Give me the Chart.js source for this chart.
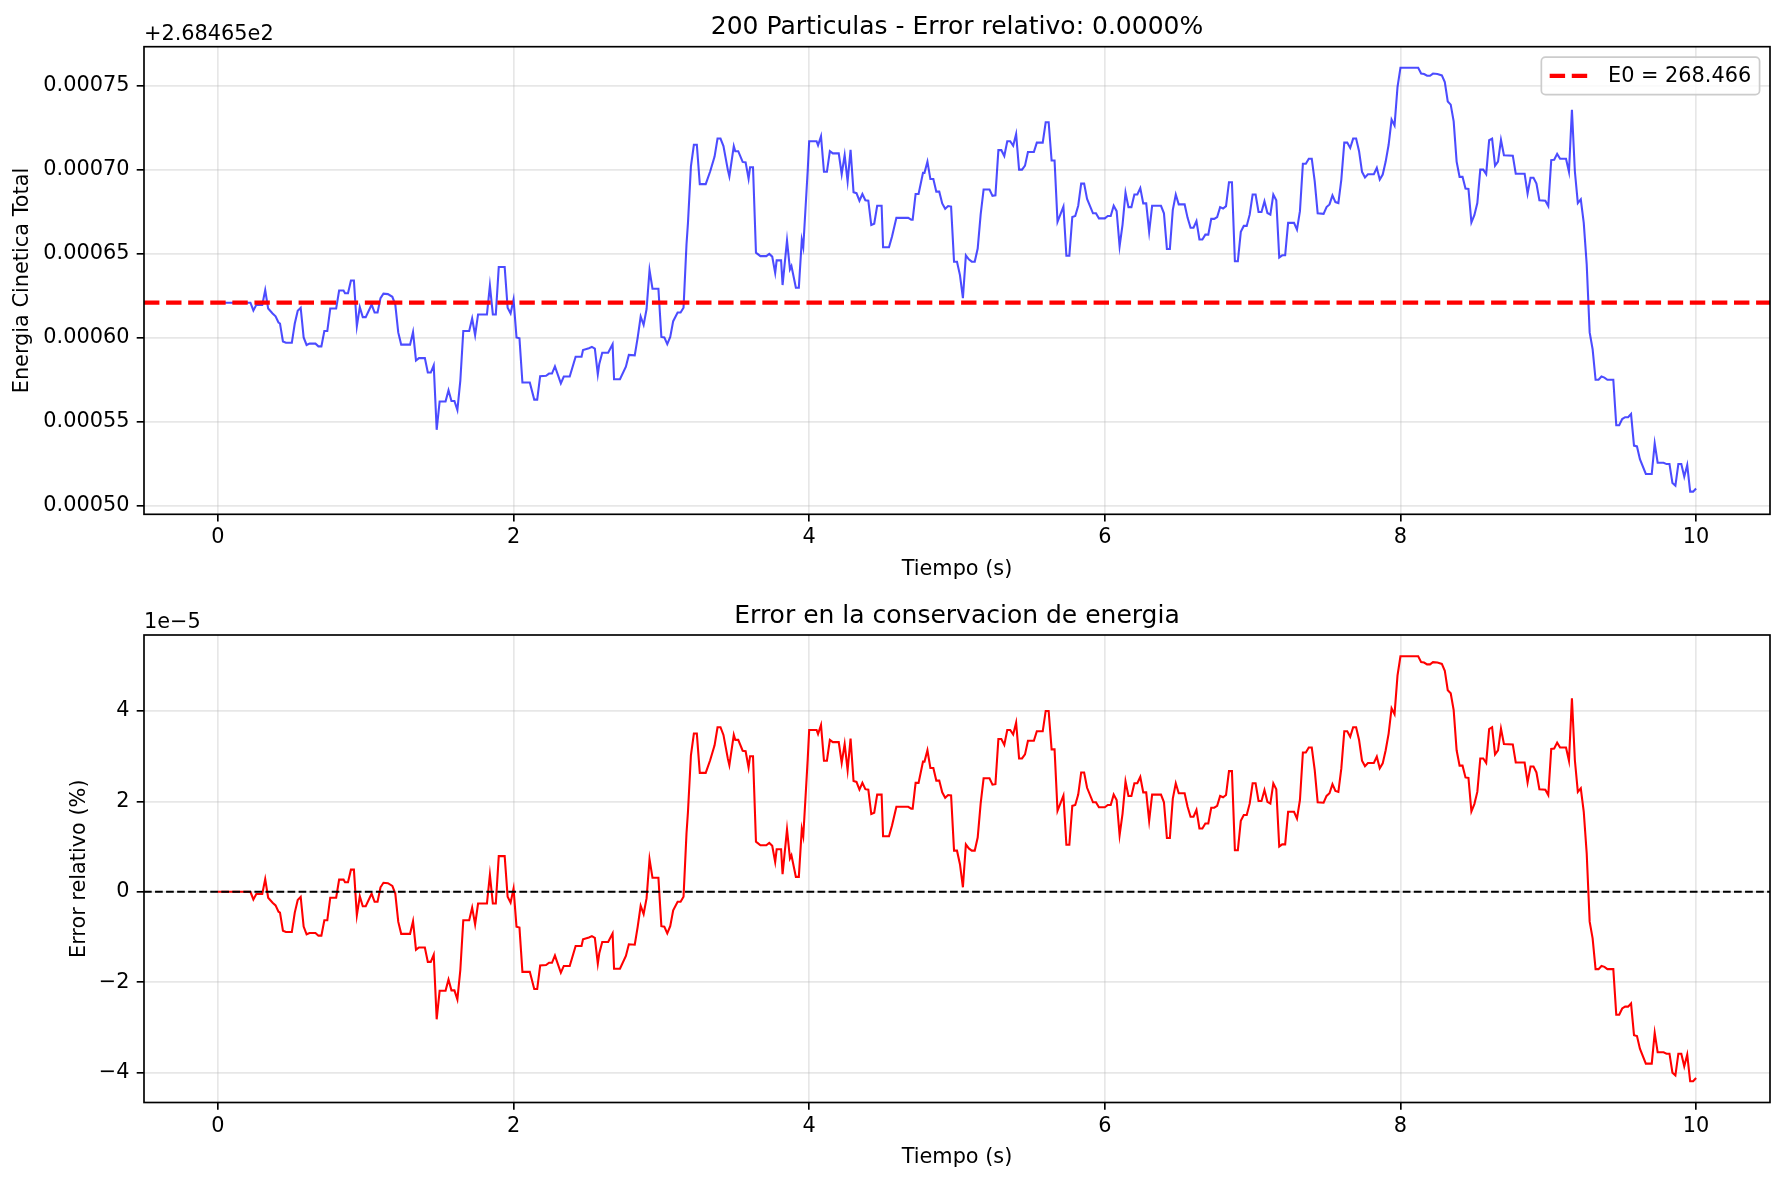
<!DOCTYPE html>
<html lang="es">
<head>
<meta charset="UTF-8">
<title>Energia - 200 particulas</title>
<script src="https://cdn.jsdelivr.net/npm/chart.js@4.4.1/dist/chart.umd.min.js"></script>
<style>
  body { margin: 0; background: #fff; }
  #board { position: relative; width: 1784px; height: 1181px; }
  #board canvas { position: absolute; left: 0; top: 0; }
</style>
</head>
<body>
<div id="board">
  <canvas id="chart1" width="1784" height="1181"></canvas>
  <canvas id="chart2" width="1784" height="1181"></canvas>
</div>
<script>
// tiempo (s)
const tiempo = [
  0.00,0.22,0.24,0.26,0.30,0.32,0.34,0.37,0.39,0.41,
  0.42,0.44,0.46,0.50,0.52,0.54,0.56,0.58,0.60,0.62,
  0.66,0.68,0.70,0.72,0.74,0.76,0.80,0.82,0.85,0.86,
  0.88,0.90,0.92,0.94,0.96,0.98,1.00,1.03,1.04,1.06,
  1.08,1.10,1.12,1.15,1.18,1.20,1.22,1.24,1.30,1.32,
  1.34,1.36,1.40,1.42,1.44,1.46,1.48,1.50,1.54,1.56,
  1.58,1.60,1.62,1.64,1.66,1.70,1.72,1.74,1.76,1.82,
  1.84,1.86,1.88,1.90,1.94,1.96,1.98,2.00,2.02,2.04,
  2.06,2.11,2.14,2.16,2.18,2.22,2.24,2.26,2.28,2.32,
  2.34,2.38,2.42,2.46,
  2.47,2.51,2.53,2.55,2.57,2.58,2.60,2.64,2.67,2.68,
  2.72,2.76,2.78,2.82,2.84,2.86,2.88,2.90,2.92,2.94,
  2.98,3.00,3.02,3.04,3.06,3.08,3.11,3.13,3.15,3.17,
  3.18,3.20,3.22,3.24,3.26,3.30,3.33,3.36,3.38,3.40,
  3.42,3.45,3.46,3.49,3.50,3.52,3.55,3.57,3.59,3.60,
  3.62,3.64,3.67,3.71,3.73,3.75,3.77,3.78,3.81,3.82,
  3.85,3.87,3.88,3.91,3.93,3.95,3.96,3.99,4.00,4.05,
  4.06,4.08,4.10,4.12,4.14,4.16,4.20,4.22,4.24,4.26,
  4.28,4.30,4.32,4.34,4.36,4.38,4.40,4.42,4.44,4.46,
  4.49,4.50,4.54,4.56,4.59,4.67,4.69,4.70,4.72,4.74,
  4.77,4.78,4.80,4.82,4.84,4.86,4.88,4.90,4.92,4.94,
  4.96,
  4.98,5.00,5.02,5.04,5.06,5.08,5.10,5.12,5.14,5.16,
  5.18,5.22,5.24,5.26,5.28,5.30,5.32,5.34,5.36,5.38,
  5.40,5.42,5.44,5.46,5.48,5.52,5.54,5.58,5.60,5.62,
  5.64,5.66,5.68,5.72,5.74,5.76,5.78,5.80,5.82,5.84,
  5.86,5.88,5.92,5.94,5.96,6.00,6.02,6.04,6.06,6.08,
  6.10,6.12,6.14,6.16,6.18,6.20,6.22,6.24,6.26,6.28,
  6.30,6.32,6.38,6.40,6.42,6.44,6.46,6.48,6.50,6.54,
  6.56,6.58,6.60,6.62,6.64,6.66,6.68,6.70,6.72,6.74,
  6.76,6.78,6.80,6.82,6.84,6.86,6.88,6.90,6.92,6.94,
  6.96,6.98,7.00,7.02,7.04,7.06,7.08,7.10,7.12,7.14,
  7.16,7.18,7.20,7.22,7.24,7.28,7.30,7.32,7.34,7.36,
  7.38,7.40,7.42,7.44,7.48,7.50,7.52,
  7.54,7.56,7.58,7.60,7.62,7.64,7.66,7.68,7.70,7.72,
  7.74,7.76,7.78,7.82,7.84,7.86,7.88,7.90,7.92,7.94,
  7.96,7.98,8.00,8.12,8.14,8.16,8.18,8.20,8.22,8.25,
  8.28,8.30,8.32,8.34,8.36,8.38,8.40,8.42,8.44,8.46,
  8.48,8.50,8.52,8.54,8.56,8.58,8.60,8.62,8.64,8.66,
  8.68,8.70,8.76,8.78,8.84,8.86,8.88,8.90,8.92,8.94,
  8.98,9.00,9.02,9.04,9.06,9.08,9.12,9.14,9.16,9.18,
  9.20,9.22,9.24,9.26,9.28,9.30,9.32,9.34,9.36,9.38,
  9.40,9.44,9.46,9.48,9.50,9.52,9.54,9.56,9.58,9.60,
  9.62,9.66,9.70,9.72,9.74,9.78,9.80,9.82,9.84,9.86,
  9.88,9.90,9.92,9.94,9.96,9.98,10.00
];

// energia cinetica total menos 268.465, en unidades de 1e-5
const energia = [
  62.10,62.10,61.64,61.97,61.97,62.85,61.75,61.46,61.29,60.92,
  60.86,59.79,59.71,59.71,60.86,61.62,61.80,60.03,59.58,59.66,
  59.66,59.50,59.50,60.41,60.41,61.75,61.75,62.82,62.82,62.66,
  62.66,63.42,63.42,60.70,61.83,61.24,61.24,61.80,61.99,61.51,
  61.51,62.37,62.64,62.61,62.45,61.99,60.33,59.60,59.60,60.35,
  58.66,58.80,58.80,57.94,57.94,58.37,54.53,56.22,56.22,56.89,
  56.25,56.25,55.71,57.46,60.41,60.41,61.16,60.17,61.40,61.40,
  63.12,61.40,61.40,64.22,64.22,61.80,61.46,62.29,60.03,59.98,
  57.35,57.35,56.33,56.33,57.72,57.75,57.88,57.88,58.31,57.29,
  57.70,57.70,58.88,58.88,
  59.28,59.39,59.47,59.36,57.83,58.45,59.12,59.12,59.63,57.54,
  57.54,58.29,58.99,58.96,60.03,61.27,60.78,61.72,64.03,62.93,
  62.93,60.06,60.03,59.63,60.06,61.00,61.51,61.51,61.80,65.56,
  66.85,70.21,71.50,71.50,69.16,69.16,69.91,70.80,71.87,71.87,
  71.42,69.99,69.62,71.42,71.12,71.12,70.48,70.45,69.48,70.16,
  70.16,65.08,64.87,64.87,65.00,64.84,63.87,64.62,64.62,63.15,
  65.81,64.09,64.28,62.99,62.99,65.83,65.40,69.97,71.71,71.71,
  71.47,72.01,69.89,69.89,71.12,70.99,70.99,69.75,70.88,69.32,
  71.20,68.68,68.62,68.17,68.57,68.20,68.17,66.72,66.80,67.87,
  67.87,65.40,65.40,66.02,67.15,67.15,67.04,67.04,68.57,68.57,
  69.83,69.83,70.50,69.46,69.46,68.71,68.71,68.01,67.69,67.85,
  67.82,
  64.54,64.54,63.74,62.37,64.92,64.68,64.54,64.54,65.32,67.34,
  68.84,68.84,68.46,68.49,71.18,71.18,70.83,71.71,71.71,71.44,
  72.14,70.02,70.02,70.26,71.07,71.07,71.63,71.63,72.84,72.84,
  70.56,70.56,66.91,67.82,64.89,64.89,67.20,67.26,67.87,69.19,
  69.19,68.28,67.42,67.42,67.12,67.12,67.26,67.26,67.87,67.55,
  65.46,66.75,68.65,67.79,67.79,68.54,68.54,68.92,68.01,68.01,
  66.32,67.87,67.87,67.42,65.30,65.30,67.63,68.54,67.95,67.95,
  67.15,66.56,66.56,66.96,65.86,65.86,66.15,66.15,67.09,67.09,
  67.20,67.79,67.71,67.85,69.27,69.27,64.57,64.57,66.32,66.67,
  66.67,67.34,68.54,68.54,67.50,67.50,68.14,67.44,67.34,68.54,
  68.20,64.79,64.92,64.92,66.85,66.85,66.45,67.55,70.37,70.37,
  70.67,70.67,69.32,67.42,67.39,67.79,67.95,
  68.49,68.09,68.03,69.43,71.63,71.63,71.31,71.87,71.87,71.12,
  69.89,69.56,69.75,69.75,70.13,69.43,69.73,70.50,71.50,73.00,
  72.65,74.93,76.09,76.09,75.74,75.71,75.61,75.61,75.74,75.71,
  75.63,75.23,74.08,73.89,72.89,70.50,69.59,69.59,68.89,68.87,
  66.88,67.31,68.03,70.02,70.02,69.75,71.77,71.87,70.26,70.50,
  71.79,70.88,70.85,69.78,69.78,68.60,69.54,69.54,69.19,68.20,
  68.17,67.85,70.59,70.61,70.96,70.67,70.67,69.89,73.59,69.91,
  68.03,68.25,66.85,64.38,60.33,59.33,57.51,57.51,57.70,57.64,
  57.51,57.51,54.80,54.80,55.17,55.28,55.28,55.47,53.59,53.54,
  52.78,51.90,51.90,53.72,52.57,52.57,52.49,52.49,51.36,51.20,
  52.49,52.49,51.74,52.43,50.85,50.85,51.04
];

// error relativo (%), en unidades de 1e-5
const errorRel = [
  0,0,-0.17,-0.05,-0.05,0.28,-0.13,-0.24,-0.30,-0.44,
  -0.46,-0.86,-0.89,-0.89,-0.46,-0.18,-0.11,-0.77,-0.94,-0.91,
  -0.91,-0.97,-0.97,-0.63,-0.63,-0.13,-0.13,0.27,0.27,0.21,
  0.21,0.49,0.49,-0.52,-0.10,-0.32,-0.32,-0.11,-0.04,-0.22,
  -0.22,0.10,0.20,0.19,0.13,-0.04,-0.66,-0.93,-0.93,-0.65,
  -1.28,-1.23,-1.23,-1.55,-1.55,-1.39,-2.82,-2.19,-2.19,-1.94,
  -2.18,-2.18,-2.38,-1.73,-0.63,-0.63,-0.35,-0.72,-0.26,-0.26,
  0.38,-0.26,-0.26,0.79,0.79,-0.11,-0.24,0.07,-0.77,-0.79,
  -1.77,-1.77,-2.15,-2.15,-1.63,-1.62,-1.57,-1.57,-1.41,-1.79,
  -1.64,-1.64,-1.20,-1.20,
  -1.05,-1.01,-0.98,-1.02,-1.59,-1.36,-1.11,-1.11,-0.92,-1.70,
  -1.70,-1.42,-1.16,-1.17,-0.77,-0.31,-0.49,-0.14,0.72,0.31,
  0.31,-0.76,-0.77,-0.92,-0.76,-0.41,-0.22,-0.22,-0.11,1.29,
  1.77,3.02,3.50,3.50,2.63,2.63,2.91,3.24,3.64,3.64,
  3.47,2.94,2.80,3.47,3.36,3.36,3.12,3.11,2.75,3.00,
  3.00,1.11,1.03,1.03,1.08,1.02,0.66,0.94,0.94,0.39,
  1.38,0.74,0.81,0.33,0.33,1.39,1.23,2.93,3.58,3.58,
  3.49,3.69,2.90,2.90,3.36,3.31,3.31,2.85,3.27,2.69,
  3.39,2.45,2.43,2.26,2.41,2.27,2.26,1.72,1.75,2.15,
  2.15,1.23,1.23,1.46,1.88,1.88,1.84,1.84,2.41,2.41,
  2.88,2.88,3.13,2.74,2.74,2.46,2.46,2.20,2.08,2.14,
  2.13,
  0.91,0.91,0.61,0.10,1.05,0.96,0.91,0.91,1.20,1.95,
  2.51,2.51,2.37,2.38,3.38,3.38,3.25,3.58,3.58,3.48,
  3.74,2.95,2.95,3.04,3.34,3.34,3.55,3.55,4.00,4.00,
  3.15,3.15,1.79,2.13,1.04,1.04,1.90,1.92,2.15,2.64,
  2.64,2.30,1.98,1.98,1.87,1.87,1.92,1.92,2.15,2.03,
  1.25,1.73,2.44,2.12,2.12,2.40,2.40,2.54,2.20,2.20,
  1.57,2.15,2.15,1.98,1.19,1.19,2.06,2.40,2.18,2.18,
  1.88,1.66,1.66,1.81,1.40,1.40,1.51,1.51,1.86,1.86,
  1.90,2.12,2.09,2.14,2.67,2.67,0.92,0.92,1.57,1.70,
  1.70,1.95,2.40,2.40,2.01,2.01,2.25,1.99,1.95,2.40,
  2.27,1.00,1.05,1.05,1.77,1.77,1.62,2.03,3.08,3.08,
  3.19,3.19,2.69,1.98,1.97,2.12,2.18,
  2.38,2.23,2.21,2.73,3.55,3.55,3.43,3.64,3.64,3.36,
  2.90,2.78,2.85,2.85,2.99,2.73,2.84,3.13,3.50,4.06,
  3.93,4.78,5.21,5.21,5.08,5.07,5.03,5.03,5.08,5.07,
  5.04,4.89,4.46,4.39,4.02,3.13,2.79,2.79,2.53,2.52,
  1.78,1.94,2.21,2.95,2.95,2.85,3.60,3.64,3.04,3.13,
  3.61,3.27,3.26,2.86,2.86,2.42,2.77,2.77,2.64,2.27,
  2.26,2.14,3.16,3.17,3.30,3.19,3.19,2.90,4.28,2.91,
  2.21,2.29,1.77,0.85,-0.66,-1.03,-1.71,-1.71,-1.64,-1.66,
  -1.71,-1.71,-2.72,-2.72,-2.58,-2.54,-2.54,-2.47,-3.17,-3.19,
  -3.47,-3.80,-3.80,-3.12,-3.55,-3.55,-3.58,-3.58,-4.00,-4.06,
  -3.58,-3.58,-3.86,-3.60,-4.19,-4.19,-4.12
];

const E0 = 62.1;            // energia inicial (mismas unidades que energia)
const textoLeyenda = 'E0 = 268.466';
const xTicks = [0, 2, 4, 6, 8, 10];
const yTicksEnergia = [50, 55, 60, 65, 70, 75];
const yTicksError = [-4, -2, 0, 2, 4];
const X_MIN = -0.5, X_MAX = 10.5;

const PT = 150 / 72;
const FONT = "'DejaVu Sans', sans-serif";
const GRID = 'rgba(176,176,176,0.3)';
const ALTO_X = 65.4;        // alto de la zona del eje x (ticks + titulo)

// marco de los ejes y textos que matplotlib pone encima
function marco(titulo, offset) {
  return {
    id: 'marco',
    afterDatasetsDraw(chart) {
      const { ctx, chartArea: a } = chart;
      ctx.save();
      ctx.strokeStyle = '#000';
      ctx.lineWidth = 0.8 * PT;
      ctx.strokeRect(a.left, a.top, a.right - a.left, a.bottom - a.top);
      ctx.fillStyle = '#000';
      ctx.textBaseline = 'alphabetic';
      ctx.font = `${12 * PT}px ${FONT}`;
      ctx.textAlign = 'center';
      ctx.fillText(titulo, (a.left + a.right) / 2, a.top - 6 * PT);
      ctx.font = `${10 * PT}px ${FONT}`;
      ctx.textAlign = 'left';
      ctx.fillText(offset, a.left, a.top - 6.7);
      ctx.restore();
    }
  };
}

const leyenda = {
  id: 'leyenda',
  afterDraw(chart) {
    const { ctx, chartArea: a } = chart;
    const fs = 10 * PT;
    ctx.save();
    ctx.font = `${fs}px ${FONT}`;
    const tw = ctx.measureText(textoLeyenda).width;
    const pad = 0.4 * fs, hl = 2 * fs, gap = 0.8 * fs;
    const w = pad + hl + gap + tw + pad;
    const h = fs + 2 * pad;
    const x = a.right - 0.5 * fs - w;
    const y = a.top + 0.5 * fs;
    ctx.beginPath();
    ctx.roundRect(x, y, w, h, 0.2 * fs);
    ctx.fillStyle = 'rgba(255,255,255,0.8)';
    ctx.fill();
    ctx.strokeStyle = '#cccccc';
    ctx.lineWidth = 1.7;
    ctx.stroke();
    const cy = y + h / 2;
    ctx.beginPath();
    ctx.setLineDash([3.7 * 2 * PT, 1.6 * 2 * PT]);
    ctx.strokeStyle = '#ff0000';
    ctx.lineWidth = 2 * PT;
    ctx.moveTo(x + pad, cy);
    ctx.lineTo(x + pad + hl, cy);
    ctx.stroke();
    ctx.setLineDash([]);
    ctx.fillStyle = '#000';
    ctx.textAlign = 'left';
    ctx.textBaseline = 'middle';
    ctx.fillText(textoLeyenda, x + pad + hl + gap, cy + 1);
    ctx.restore();
  }
};

function opciones(cfg) {
  const fuente = { family: FONT, size: 10 * PT, lineHeight: 1 };
  return {
    responsive: false,
    animation: false,
    devicePixelRatio: 1,
    layout: { padding: { top: cfg.top, bottom: cfg.bottom, left: 0, right: 14 } },
    plugins: { legend: { display: false }, tooltip: { enabled: false } },
    scales: {
      x: {
        type: 'linear',
        min: X_MIN,
        max: X_MAX,
        afterBuildTicks: s => { s.ticks = xTicks.map(v => ({ value: v })); },
        afterFit: s => { s.height = ALTO_X; },
        grid: { color: GRID, lineWidth: 0.8 * PT, tickColor: '#000', tickLength: 3.5 * PT, tickWidth: 0.8 * PT },
        border: { display: false },
        ticks: { color: '#000', font: fuente, padding: 6, maxRotation: 0, autoSkip: false },
        title: { display: true, text: 'Tiempo (s)', color: '#000', font: fuente, padding: 0 }
      },
      y: {
        type: 'linear',
        min: cfg.yMin,
        max: cfg.yMax,
        afterBuildTicks: s => { s.ticks = cfg.yTicks.map(v => ({ value: v })); },
        afterFit: s => { s.width = 144; },
        grid: { color: GRID, lineWidth: 0.8 * PT, tickColor: '#000', tickLength: 3.5 * PT, tickWidth: 0.8 * PT },
        border: { display: false },
        ticks: { color: '#000', font: fuente, padding: 3.5 * PT, autoSkip: false, callback: cfg.etiqueta },
        title: { display: true, text: cfg.yTitulo, color: '#000', font: fuente, padding: { top: cfg.yPad, bottom: 0 } }
      }
    }
  };
}

new Chart(document.getElementById('chart1'), {
  type: 'line',
  data: {
    datasets: [
      {
        label: textoLeyenda,
        data: [{ x: X_MIN, y: E0 }, { x: X_MAX, y: E0 }],
        borderColor: '#ff0000',
        borderWidth: 2 * PT,
        borderDash: [3.7 * 2 * PT, 1.6 * 2 * PT],
        pointRadius: 0
      },
      {
        label: 'Energia',
        data: tiempo.map((t, i) => ({ x: t, y: energia[i] })),
        borderColor: 'rgba(0,0,255,0.7)',
        borderWidth: 1 * PT,
        pointRadius: 0,
        tension: 0
      }
    ]
  },
  options: opciones({
    top: 46.7, bottom: 1181 - 514.3 - ALTO_X,
    yMin: 49.5, yMax: 77.34, yTicks: yTicksEnergia,
    yTitulo: 'Energia Cinetica Total', yPad: 12.4,
    etiqueta: v => (v * 1e-5).toFixed(5)
  }),
  plugins: [marco('200 Particulas - Error relativo: 0.0000%', '+2.68465e2'), leyenda]
});

new Chart(document.getElementById('chart2'), {
  type: 'line',
  data: {
    datasets: [
      {
        label: 'cero',
        data: [{ x: X_MIN, y: 0 }, { x: X_MAX, y: 0 }],
        borderColor: '#000',
        borderWidth: 1 * PT,
        borderDash: [3.7 * PT, 1.6 * PT],
        pointRadius: 0
      },
      {
        label: 'Error',
        data: tiempo.map((t, i) => ({ x: t, y: errorRel[i] })),
        borderColor: '#ff0000',
        borderWidth: 1 * PT,
        pointRadius: 0,
        tension: 0
      }
    ]
  },
  options: opciones({
    top: 635, bottom: 1181 - 1102.5 - ALTO_X,
    yMin: -4.66, yMax: 5.68, yTicks: yTicksError,
    yTitulo: 'Error relativo (%)', yPad: 69.2,
    etiqueta: v => (v < 0 ? '\u2212' + (-v) : String(v))
  }),
  plugins: [marco('Error en la conservacion de energia', '1e\u22125')]
});
</script>
</body>
</html>
